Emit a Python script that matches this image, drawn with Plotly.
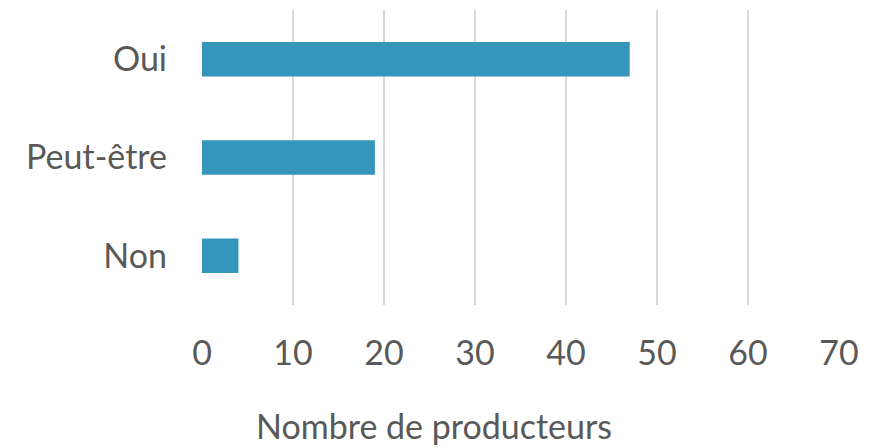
import plotly.graph_objects as go

categories = ["Non", "Peut-être", "Oui"]
values = [4, 19, 47]
x_ticks = [0, 10, 20, 30, 40, 50, 60, 70]
x_title = "Nombre de producteurs"

fig = go.Figure(go.Bar(
    y=categories, x=values, orientation="h",
    marker=dict(color="#3596BC", line=dict(width=0)),
))
font = dict(family="Lato, Open Sans, sans-serif", size=34, color="#595959")
fig.update_layout(
    width=872, height=448,
    margin=dict(l=194, r=41, t=2, b=151, autoexpand=False),
    paper_bgcolor="white", plot_bgcolor="white",
    bargap=0.65, showlegend=False, font=font,
)
fig.update_xaxes(
    range=[0, 70], tickvals=x_ticks, showgrid=True, gridcolor="#D9D9D9", gridwidth=1.5,
    zeroline=False, showline=False, ticks="", ticklabelstandoff=25,
    tickfont=font, automargin=False,
)
fig.update_yaxes(showgrid=False, zeroline=False, showline=False, ticks="",
                 ticklabelstandoff=34, tickfont=font, automargin=False)
fig.add_annotation(text=x_title, xref="paper", yref="paper", x=0.364, y=-0.41,
                   xanchor="center", yanchor="middle", showarrow=False, font=font)
fig.write_html("out.html")
